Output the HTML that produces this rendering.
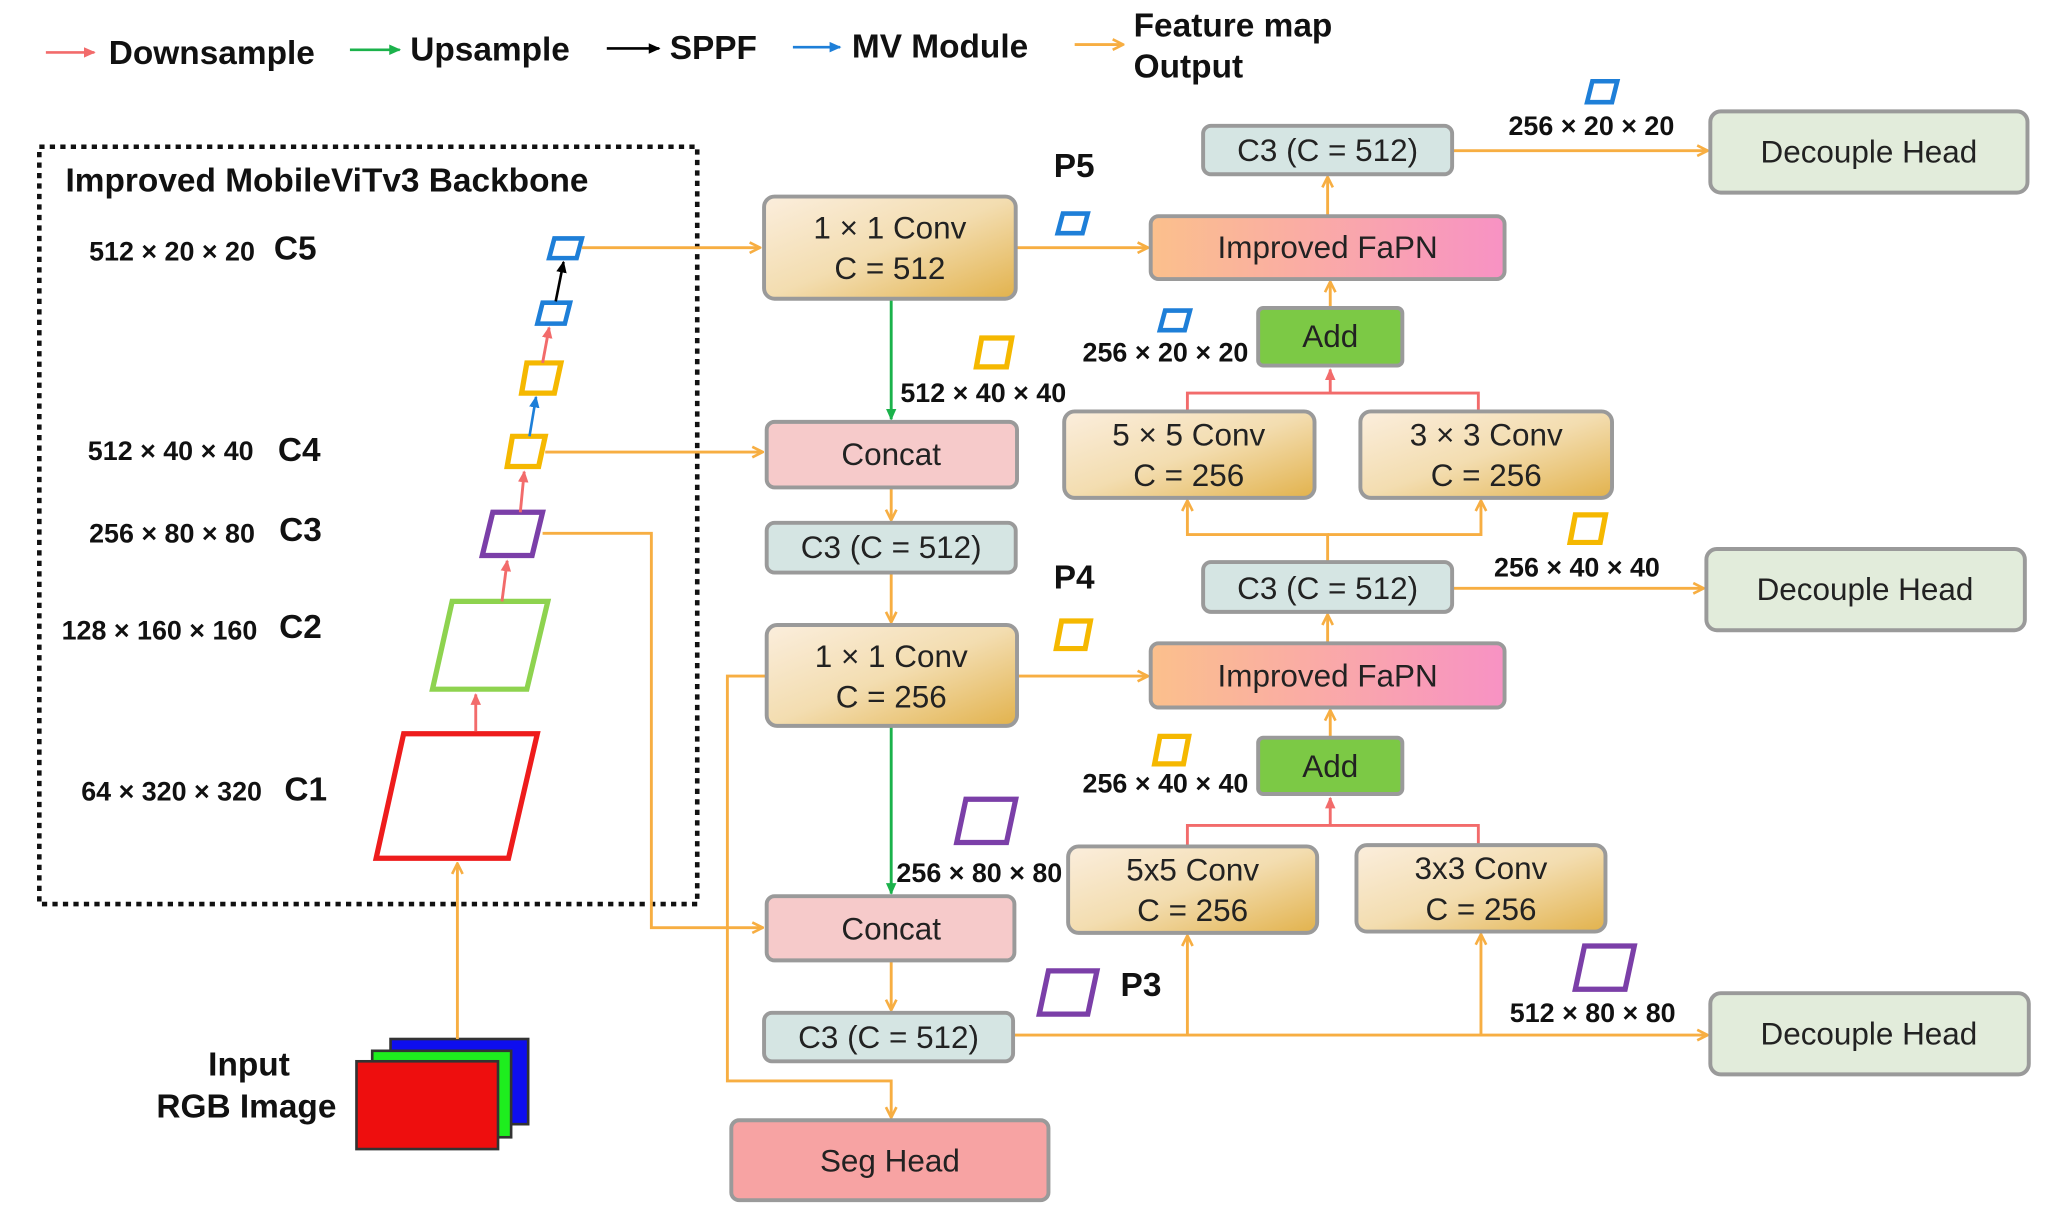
<!DOCTYPE html>
<html><head><meta charset="utf-8"><style>
html,body{margin:0;padding:0;background:#fff;}
svg{display:block;}
text{font-family:"Liberation Sans",Arial,sans-serif;}
.b{font-size:24px;fill:#222;text-anchor:middle;}
.l{font-size:20.5px;font-weight:bold;fill:#111;}
.lg{font-size:25.5px;font-weight:bold;fill:#111;}
.o{stroke:#F7AE42;stroke-width:2.2;fill:none;}
.r{stroke:#F26B6B;stroke-width:2.2;fill:none;}
.g{stroke:#1BB24B;stroke-width:2.2;fill:none;}
</style></head><body>
<svg width="2055" height="1229" viewBox="0 0 1568 938" preserveAspectRatio="none">
<defs>
<marker id="ao" markerWidth="10" markerHeight="10" refX="9" refY="5" orient="auto" markerUnits="userSpaceOnUse"><path d="M1,1 L9,5 L1,9" fill="none" stroke="#F7AE42" stroke-width="2"/></marker>
<marker id="ar" markerWidth="10" markerHeight="10" refX="8" refY="5" orient="auto" markerUnits="userSpaceOnUse"><path d="M0,1 L9,5 L0,9 z" fill="#F26B6B"/></marker>
<marker id="ag" markerWidth="10" markerHeight="10" refX="8" refY="5" orient="auto" markerUnits="userSpaceOnUse"><path d="M0,1 L9,5 L0,9 z" fill="#1BB24B"/></marker>
<marker id="ab" markerWidth="10" markerHeight="10" refX="8" refY="5" orient="auto" markerUnits="userSpaceOnUse"><path d="M0,1 L9,5 L0,9 z" fill="#1E7FD8"/></marker>
<marker id="ak" markerWidth="10" markerHeight="10" refX="8" refY="5" orient="auto" markerUnits="userSpaceOnUse"><path d="M0,1 L9,5 L0,9 z" fill="#000"/></marker>
<linearGradient id="gc" x1="0" y1="0" x2="1" y2="1"><stop offset="0" stop-color="#FBEEDD"/><stop offset="0.5" stop-color="#F3DDB0"/><stop offset="1" stop-color="#E2B24C"/></linearGradient>
<linearGradient id="gf" x1="0" y1="0" x2="1" y2="0"><stop offset="0" stop-color="#FBC08C"/><stop offset="1" stop-color="#F892C4"/></linearGradient>
</defs>

<line x1="35" y1="40" x2="72" y2="40" stroke="#F26B6B" stroke-width="2" marker-end="url(#ar)"/>
<text x="83" y="49" class="lg">Downsample</text>
<line x1="267" y1="38" x2="305" y2="38" stroke="#1BB24B" stroke-width="2" marker-end="url(#ag)"/>
<text x="313" y="46" class="lg">Upsample</text>
<line x1="463" y1="37" x2="503" y2="37" stroke="#000" stroke-width="2" marker-end="url(#ak)"/>
<text x="511" y="45" class="lg">SPPF</text>
<line x1="605" y1="36" x2="641" y2="36" stroke="#1E7FD8" stroke-width="2" marker-end="url(#ab)"/>
<text x="650" y="44" class="lg">MV Module</text>
<line x1="820" y1="34" x2="857" y2="34" class="o" marker-end="url(#ao)"/>
<text x="865" y="28" class="lg">Feature map</text>
<text x="865" y="59" class="lg">Output</text>

<rect x="30" y="112" width="502" height="578" fill="none" stroke="#111" stroke-width="3.5" stroke-dasharray="4,4"/>
<text x="50" y="146" class="lg">Improved MobileViTv3 Backbone</text>
<text x="68" y="199" class="l">512 × 20 × 20</text><text x="209" y="198" class="lg">C5</text>
<text x="67" y="351" class="l">512 × 40 × 40</text><text x="212" y="352" class="lg">C4</text>
<text x="68" y="414" class="l">256 × 80 × 80</text><text x="213" y="413" class="lg">C3</text>
<text x="47" y="488" class="l">128 × 160 × 160</text><text x="213" y="487" class="lg">C2</text>
<text x="62" y="611" class="l">64 × 320 × 320</text><text x="217" y="611" class="lg">C1</text>

<polygon points="308,560 410,560 388,655 287,655" fill="none" stroke="#EE1C1C" stroke-width="4"/>
<polygon points="345,459 418,459 402,526 330,526" fill="none" stroke="#8ED34F" stroke-width="4"/>
<polygon points="376,391 414,391 406,424 368,424" fill="none" stroke="#7B3FA8" stroke-width="4"/>
<polygon points="391,333 416,333 411,356 387,356" fill="none" stroke="#F5B800" stroke-width="4"/>
<polygon points="402,277 428,277 423,300 398,300" fill="none" stroke="#F5B800" stroke-width="4"/>
<polygon points="414,231 435,231 431,247 410,247" fill="none" stroke="#1E7FD8" stroke-width="3.5"/>
<polygon points="423,182 444,182 440,197 419,197" fill="none" stroke="#1E7FD8" stroke-width="3.5"/>
<line x1="363" y1="558" x2="363" y2="530" class="r" marker-end="url(#ar)"/>
<line x1="383" y1="459" x2="387" y2="428" class="r" marker-end="url(#ar)"/>
<line x1="397" y1="391" x2="400" y2="360" class="r" marker-end="url(#ar)"/>
<line x1="404" y1="333" x2="409" y2="303" stroke="#1E7FD8" stroke-width="2" marker-end="url(#ab)"/>
<line x1="414" y1="277" x2="419" y2="250" class="r" marker-end="url(#ar)"/>
<line x1="424" y1="230" x2="430" y2="200" stroke="#000" stroke-width="2" marker-end="url(#ak)"/>

<rect x="298" y="793" width="105" height="65" fill="#0E0EEF" stroke="#333" stroke-width="2"/>
<rect x="284" y="802" width="106" height="66" fill="#1EEE1E" stroke="#333" stroke-width="2"/>
<rect x="272" y="810" width="108" height="67" fill="#EE0E0E" stroke="#333" stroke-width="2"/>
<text x="190" y="821" class="lg" text-anchor="middle">Input</text>
<text x="188" y="853" class="lg" text-anchor="middle">RGB Image</text>
<line x1="349" y1="793" x2="349" y2="659" class="o" marker-end="url(#ao)"/>

<line x1="444" y1="189" x2="580" y2="189" class="o" marker-end="url(#ao)"/>
<line x1="416" y1="345" x2="582" y2="345" class="o" marker-end="url(#ao)"/>
<polyline points="414,407 497,407 497,708 582,708" class="o" marker-end="url(#ao)"/>
<line x1="775" y1="189" x2="876" y2="189" class="o" marker-end="url(#ao)"/>
<line x1="680" y1="372" x2="680" y2="397" class="o" marker-end="url(#ao)"/>
<line x1="680" y1="437" x2="680" y2="475" class="o" marker-end="url(#ao)"/>
<line x1="776" y1="516" x2="876" y2="516" class="o" marker-end="url(#ao)"/>
<polyline points="585,516 555,516 555,825 680,825 680,853" class="o" marker-end="url(#ao)"/>
<line x1="680" y1="733" x2="680" y2="771" class="o" marker-end="url(#ao)"/>
<line x1="773" y1="790" x2="1303" y2="790" class="o" marker-end="url(#ao)"/>
<line x1="906" y1="790" x2="906" y2="714" class="o" marker-end="url(#ao)"/>
<line x1="1130" y1="790" x2="1130" y2="713" class="o" marker-end="url(#ao)"/>
<line x1="1015" y1="563" x2="1015" y2="542" class="o" marker-end="url(#ao)"/>
<line x1="1013" y1="491" x2="1013" y2="469" class="o" marker-end="url(#ao)"/>
<line x1="1108" y1="449" x2="1300" y2="449" class="o" marker-end="url(#ao)"/>
<polyline points="1013,429 1013,408 906,408 906,382" class="o" marker-end="url(#ao)"/>
<polyline points="1013,408 1130,408 1130,382" class="o" marker-end="url(#ao)"/>
<line x1="1015" y1="235" x2="1015" y2="215" class="o" marker-end="url(#ao)"/>
<line x1="1013" y1="165" x2="1013" y2="135" class="o" marker-end="url(#ao)"/>
<line x1="1108" y1="115" x2="1303" y2="115" class="o" marker-end="url(#ao)"/>

<line x1="680" y1="228" x2="680" y2="320" class="g" marker-end="url(#ag)"/>
<line x1="680" y1="554" x2="680" y2="682" class="g" marker-end="url(#ag)"/>

<polyline points="906,646 906,630 1128,630 1128,646" class="r"/>
<line x1="1015" y1="630" x2="1015" y2="609" class="r" marker-end="url(#ar)"/>
<polyline points="906,314 906,300 1128,300 1128,314" class="r"/>
<line x1="1015" y1="300" x2="1015" y2="282" class="r" marker-end="url(#ar)"/>

<g stroke="#9A9A9A" stroke-width="3">
<rect x="583" y="150" width="192" height="78" rx="8" fill="url(#gc)"/>
<rect x="585" y="322" width="191" height="50" rx="6" fill="#F6CACA"/>
<rect x="585" y="399" width="190" height="38" rx="6" fill="#D5E5E3"/>
<rect x="585" y="477" width="191" height="77" rx="8" fill="url(#gc)"/>
<rect x="585" y="684" width="189" height="49" rx="6" fill="#F6CACA"/>
<rect x="583" y="773" width="190" height="37" rx="6" fill="#D5E5E3"/>
<rect x="558" y="855" width="242" height="61" rx="6" fill="#F7A3A3"/>
<rect x="918" y="96" width="190" height="37" rx="6" fill="#D5E5E3"/>
<rect x="878" y="165" width="270" height="48" rx="6" fill="url(#gf)"/>
<rect x="960" y="235" width="110" height="44" rx="4" fill="#7CC945"/>
<rect x="812" y="314" width="191" height="66" rx="8" fill="url(#gc)"/>
<rect x="1038" y="314" width="192" height="66" rx="8" fill="url(#gc)"/>
<rect x="918" y="429" width="190" height="38" rx="6" fill="#D5E5E3"/>
<rect x="878" y="491" width="270" height="49" rx="6" fill="url(#gf)"/>
<rect x="960" y="563" width="110" height="43" rx="4" fill="#7CC945"/>
<rect x="815" y="646" width="190" height="66" rx="8" fill="url(#gc)"/>
<rect x="1035" y="645" width="190" height="66" rx="8" fill="url(#gc)"/>
<rect x="1305" y="85" width="242" height="62" rx="8" fill="#E2ECDB"/>
<rect x="1302" y="419" width="243" height="62" rx="8" fill="#E2ECDB"/>
<rect x="1305" y="758" width="243" height="62" rx="8" fill="#E2ECDB"/>
</g>
<text x="679" y="182" class="b">1 × 1 Conv</text><text x="679" y="213" class="b">C = 512</text>
<text x="680" y="355" class="b">Concat</text>
<text x="680" y="426" class="b">C3 (C = 512)</text>
<text x="680" y="509" class="b">1 × 1 Conv</text><text x="680" y="540" class="b">C = 256</text>
<text x="680" y="717" class="b">Concat</text>
<text x="678" y="800" class="b">C3 (C = 512)</text>
<text x="679" y="894" class="b">Seg Head</text>
<text x="1013" y="123" class="b">C3 (C = 512)</text>
<text x="1013" y="197" class="b">Improved FaPN</text>
<text x="1015" y="265" class="b">Add</text>
<text x="907" y="340" class="b">5 × 5 Conv</text><text x="907" y="371" class="b">C = 256</text>
<text x="1134" y="340" class="b">3 × 3 Conv</text><text x="1134" y="371" class="b">C = 256</text>
<text x="1013" y="457" class="b">C3 (C = 512)</text>
<text x="1013" y="524" class="b">Improved FaPN</text>
<text x="1015" y="593" class="b">Add</text>
<text x="910" y="672" class="b">5x5 Conv</text><text x="910" y="703" class="b">C = 256</text>
<text x="1130" y="671" class="b">3x3 Conv</text><text x="1130" y="702" class="b">C = 256</text>
<text x="1426" y="124" class="b">Decouple Head</text>
<text x="1423" y="458" class="b">Decouple Head</text>
<text x="1426" y="797" class="b">Decouple Head</text>

<text x="804" y="135" class="lg">P5</text>
<text x="804" y="449" class="lg">P4</text>
<text x="855" y="760" class="lg">P3</text>
<text x="687" y="307" class="l">512 × 40 × 40</text>
<text x="826" y="276" class="l">256 × 20 × 20</text>
<text x="1151" y="103" class="l">256 × 20 × 20</text>
<text x="1140" y="440" class="l">256 × 40 × 40</text>
<text x="826" y="605" class="l">256 × 40 × 40</text>
<text x="684" y="673" class="l">256 × 80 × 80</text>
<text x="1152" y="780" class="l">512 × 80 × 80</text>

<g fill="none" stroke-width="3.5">
<polygon points="811,163 830,163 826,178 807,178" stroke="#1E7FD8"/>
<polygon points="889,237 908,237 904,252 885,252" stroke="#1E7FD8"/>
<polygon points="1215,62 1234,62 1230,78 1211,78" stroke="#1E7FD8"/>
<polygon points="749,258 772,258 768,280 745,280" stroke="#F5B800" stroke-width="4"/>
<polygon points="810,474 832,474 828,495 806,495" stroke="#F5B800" stroke-width="4"/>
<polygon points="885,562 907,562 903,583 881,583" stroke="#F5B800" stroke-width="4"/>
<polygon points="1202,393 1225,393 1221,414 1198,414" stroke="#F5B800" stroke-width="4"/>
<polygon points="737,610 775,610 768,643 730,643" stroke="#7B3FA8" stroke-width="4"/>
<polygon points="800,741 837,741 830,774 793,774" stroke="#7B3FA8" stroke-width="4"/>
<polygon points="1209,722 1247,722 1240,755 1202,755" stroke="#7B3FA8" stroke-width="4"/>
</g>
</svg>
</body></html>
